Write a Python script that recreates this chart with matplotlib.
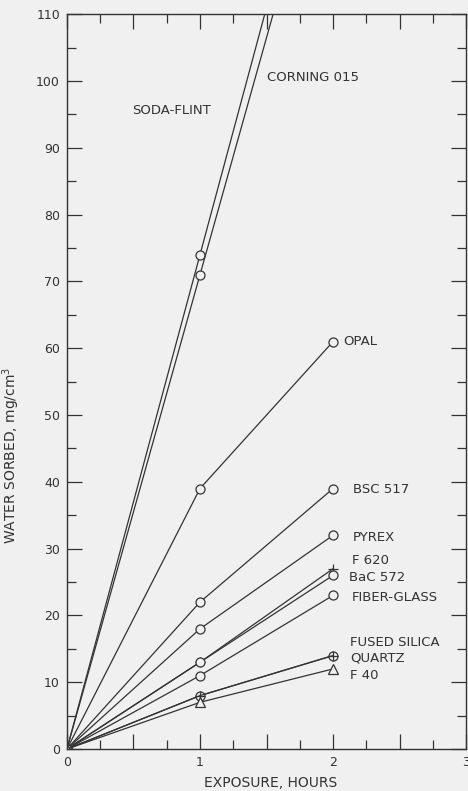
import matplotlib
matplotlib.use("Agg")
import matplotlib.pyplot as plt
from matplotlib.ticker import MultipleLocator

# exposure time, hours
hours = [0, 1, 2]

# water sorbed, mg/cm3
soda_flint = [0, 74, 148]
corning_015 = [0, 71, 142]
opal = [0, 39, 61]
bsc_517 = [0, 22, 39]
pyrex = [0, 18, 32]
f_620 = [0, 13, 27]
bac_572 = [0, 13, 26]
fiber_glass = [0, 11, 23]
fused_silica = [0, 8, 14]
quartz = [0, 8, 14]
f_40 = [0, 7, 12]

series = [
    ("SODA-FLINT", soda_flint, "o"),
    ("CORNING 015", corning_015, "o"),
    ("OPAL", opal, "o"),
    ("BSC 517", bsc_517, "o"),
    ("PYREX", pyrex, "o"),
    ("F 620", f_620, "+"),
    ("BaC 572", bac_572, "o"),
    ("FIBER-GLASS", fiber_glass, "o"),
    ("FUSED SILICA", fused_silica, "o"),
    ("QUARTZ", quartz, "+"),
    ("F 40", f_40, "^"),
]

# label positions (hours, mg/cm3)
labels = [
    ("SODA-FLINT", 0.49, 95.6),
    ("CORNING 015", 1.50, 100.6),
    ("OPAL", 2.08, 61),
    ("BSC 517", 2.15, 38.9),
    ("PYREX", 2.15, 31.7),
    ("F 620", 2.14, 28.3),
    ("BaC 572", 2.12, 25.7),
    ("FIBER-GLASS", 2.14, 22.7),
    ("FUSED SILICA", 2.13, 16.0),
    ("QUARTZ", 2.13, 13.7),
    ("F 40", 2.13, 11.0),
]

bg = "#f0f0f0"
ink = "#333333"

fig = plt.figure(figsize=(4.68, 7.91), dpi=100, facecolor=bg)
ax = fig.add_axes([0.143, 0.053, 0.853, 0.929], facecolor=bg)

for name, vals, mk in series:
    ax.plot(hours, vals, color=ink, linewidth=0.9, marker=mk,
            markersize=6.5, markerfacecolor=bg, markeredgecolor=ink,
            markeredgewidth=0.9)

for txt, x, y in labels:
    ax.text(x, y, txt, fontsize=9.5, color=ink, va="center", ha="left")

ax.set_xlim(0, 3)
ax.set_ylim(0, 110)
ax.xaxis.set_major_locator(MultipleLocator(0.5))
ax.xaxis.set_minor_locator(MultipleLocator(0.25))
ax.yaxis.set_major_locator(MultipleLocator(10))
ax.yaxis.set_minor_locator(MultipleLocator(5))
ax.set_xticklabels([("%g" % v) if v == int(v) else "" for v in ax.get_xticks()])

ax.tick_params(which="both", direction="in", top=True, right=True,
               colors=ink, labelsize=9)
ax.tick_params(which="major", length=11, width=0.9, pad=5)
ax.tick_params(which="minor", length=6.5, width=0.9)
for s in ax.spines.values():
    s.set_color(ink)
    s.set_linewidth(1.0)

ax.set_xlabel("EXPOSURE, HOURS", fontsize=10, color=ink)
ax.set_ylabel("WATER SORBED, mg/cm$^3$", fontsize=10, color=ink)
ax.xaxis.set_label_coords(0.51, -0.036)
ax.yaxis.set_label_coords(-0.113, 0.40)

fig.savefig("out.png", dpi=100, facecolor=bg)
